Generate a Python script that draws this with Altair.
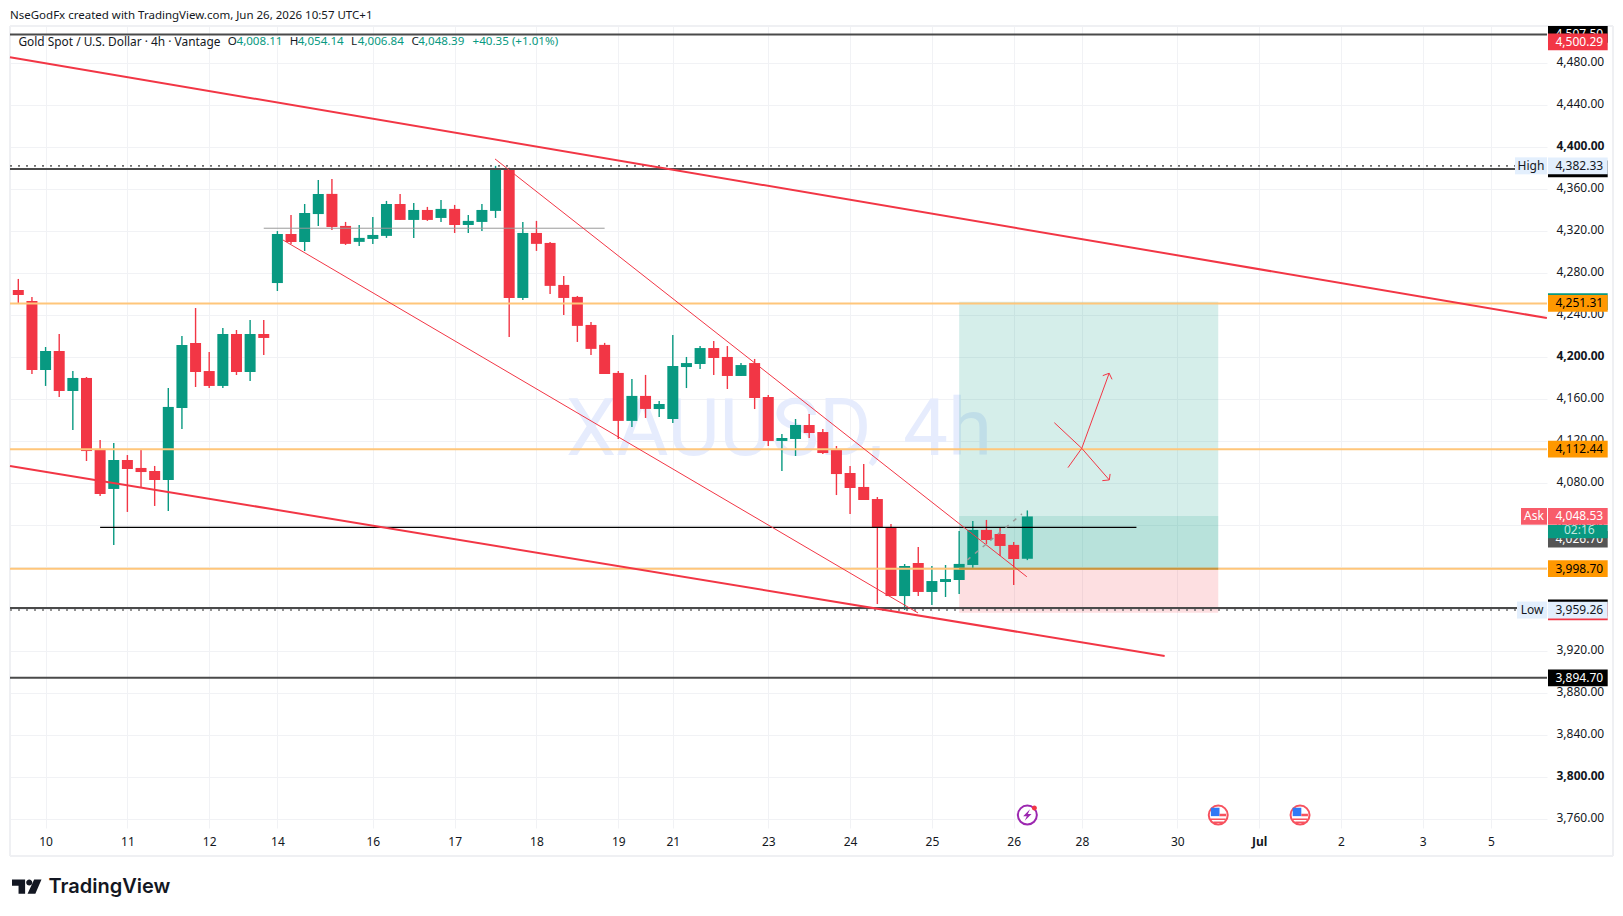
import altair as alt
import pandas as pd

# ---- candle values (4h bars) ----
opens = [4264.1,4253.6,4187.9,4206,4167.9,4180.3,4112.7,4074.6,4102.2,4094.6,4091.7,4083.1,4151.7,4213.6,4186.9,
         4172.7,4222.2,4186,4222.2,4270.7,4317.4,4309.8,4336.4,4355.6,4325.1,4309.9,4312.7,4315.6,4346,4330.8,
         4340.3,4332.7,4341.3,4326,4328.9,4339.4,4380.3,4256.5,4318.4,4308.9,4268.9,4257.5,4230.8,4211.8,4185.1,
         4139.4,4163.2,4150.7,4141.2,4190.7,4193.6,4208.8,4200.3,4182.2,4194.5,4162.2,4120.3,4122.2,4135.5,4128.8,
         4112.6,4089.8,4076.5,4065,4038.4,3972.6,4004.1,3976.5,3986,3987.9,4002.2,4035.6,4031.7,4021.3,4008.11]
closes = [4259.3,4187.9,4206,4167.9,4180.3,4110.7,4069.8,4102.2,4093.6,4090.7,4083.1,4152.7,4211.7,4186,4172.7,
          4222.2,4186,4222.2,4218.4,4317.4,4309.8,4337.4,4355.5,4324.1,4308,4313.7,4316.5,4346,4330.8,4340.3,
          4330.8,4341.3,4326,4329.9,4340.3,4380.3,4256.5,4318.4,4308,4268,4256.5,4229.9,4208,4184.1,4139.4,
          4163.2,4150.8,4155.5,4191.7,4194.5,4208.8,4199.3,4182.2,4192.6,4161.2,4120.3,4123.1,4135.5,4127.9,4108.8,
          4088.8,4075.5,4064.1,4037.4,3972.6,4001.2,3976.5,3986.9,3988.8,4003.2,4035.6,4026,4020.3,4007.9,4048.39]
highs = [4274.6,4257.4,4209.8,4222.2,4186.9,4181.2,4121.2,4118.4,4106.9,4112.7,4096.5,4170.7,4220.3,4246.9,4205,
         4227.9,4226,4235.5,4235.5,4320.2,4335.5,4346,4368.8,4369.9,4328.9,4326,4333.7,4348.9,4355.6,4347,
         4343.2,4349.9,4345.1,4335.6,4346,4382.3,4380.5,4328.9,4329.9,4309.9,4277.5,4258.4,4233.7,4213.7,4187,
         4179.4,4183.2,4158.4,4221.2,4200.3,4210.7,4215.5,4210.7,4194.5,4198.4,4164.1,4126.9,4141.2,4146,4131.7,
         4115.5,4096.5,4098.4,4066.9,4041.2,4003.1,4019.3,4001.2,4002.2,4034.6,4044.1,4045.1,4037.5,4024.1,4054.14]
lows = [4250.7,4184.1,4172.7,4162.2,4130.7,4101.2,4067.9,4021.2,4052.7,4076.5,4058.4,4053.6,4131.7,4171.7,4170.7,
        4170.7,4183.1,4177.4,4202.2,4263.1,4307.9,4301.2,4325,4321.3,4307,4306,4308,4313.7,4330.8,4313.7,
        4329.9,4328.9,4318.4,4318.4,4320.3,4332.7,4219.4,4254.6,4301.3,4260.3,4240.3,4214.6,4202.2,4184.1,4122.2,
        4133.7,4142.2,4143.1,4137.4,4170.7,4188.8,4183.1,4169.8,4182.2,4150.7,4115.5,4091.7,4106,4123.1,4107.9,
        4068.8,4050.7,4064.1,3965,3972.6,3959.3,3972.6,3964.1,3971.7,3974.6,3999.4,4022.2,4010.8,3983.2,4006.84]

# ---- axes ----
price_ticks = [3760,3800,3840,3880,3920,3960,4000,4040,4080,4120,4160,4200,4240,4280,4320,4360,4400,4440,4480]
date_ticks = [2,8,14,19,26,32,38,44,48,55,61,67,73,78,85,91,97,103,108]
date_labels = ["10","11","12","14","16","17","18","19","21","23","24","25","26","28","30","Jul","2","3","5"]

# ---- horizontal levels ----
level_orange = [4251.31,4112.44,3998.70]
level_dark = [4507.50,4379.4,3961.3,3894.70]
level_dotted = [4382.33,3959.26]

TEAL, RED = "#089981", "#f23645"
INK = "#131722"
FONT = "Noto Sans"

xs = alt.Scale(domain=[-0.609, 112.11], nice=False, zero=False, padding=0)
ys = alt.Scale(domain=[3751.7, 4515.5], nice=False, zero=False, padding=0)
GRID = "#f1f2f5"
label_expr = "{" + ",".join(f"'{v}':'{t}'" for v, t in zip(date_ticks, date_labels)) + "}[datum.value]"
x_axis = alt.Axis(values=date_ticks, labelExpr=label_expr, grid=True, gridColor=GRID, domain=False, ticks=False,
                  tickSize=0, labelPadding=13, labelFont=FONT, labelFontSize=12, labelColor=INK, title=None,
                  labelOverlap=False, labelAngle=0, labelBaseline="middle",
                  labelFontWeight={"condition": {"test": "datum.value == 91", "value": "bold"}, "value": "normal"})
y_axis = alt.Axis(values=price_ticks, format=",.2f", orient="right", grid=True, gridColor=GRID, domain=False,
                  ticks=False, tickSize=0, labelPadding=9, labelOffset=-2, labelFont=FONT, labelFontSize=12,
                  labelColor=INK, title=None, labelOverlap=False,
                  labelFontWeight={"condition": {"test": "datum.value == 4400 || datum.value == 4200 || datum.value == 3800",
                                                 "value": "bold"}, "value": "normal"})
X = alt.X("x:Q", scale=xs, axis=x_axis)
Y = alt.Y("y:Q", scale=ys, axis=y_axis)

PX0, PY0 = 10, 26


def line(xv, yv, color, width=1.0, dash=None, opacity=1.0):
    kw = {"strokeDash": dash} if dash else {}
    return alt.Chart(pd.DataFrame({"x": xv, "y": yv, "o": list(range(len(xv)))})).mark_line(
        color=color, strokeWidth=width, opacity=opacity, **kw).encode(x=X, y=Y, order="o:Q")


def hline(p, color, width, dash=None, x0=-0.609, x1=112.11):
    return line([x0, x1], [p, p], color, width, dash)


def label(t, x, y, color=INK, size=12, align="left", weight="normal", font=FONT):
    return alt.Chart(pd.DataFrame({"t": [t]})).mark_text(align=align, baseline="middle", color=color, fontSize=size,
                                                         fontWeight=weight, font=font).encode(
        x=alt.value(x - PX0), y=alt.value(y - PY0), text="t:N")


def rect_path(half_h):
    return f"M-1,-{half_h}H1V{half_h}H-1Z"


def tag(p, fill, text=None, tcolor="#ffffff", xc=1577.85, w=59.7, h=16.7, dy=0):
    df = pd.DataFrame({"y": [p], "t": [text or ""]})
    out = alt.Chart(df).mark_point(shape=rect_path(round(h / w, 3)), size=w * w, filled=True, opacity=1, color=fill,
                                   strokeWidth=0).encode(x=alt.value(xc - PX0), y=Y)
    if text:
        tx = 1579.3 if xc > 1548 else xc
        out = out + alt.Chart(df).mark_text(align="center", baseline="middle", color=tcolor, fontSize=12, font=FONT,
                                            dy=dy).encode(x=alt.value(tx - PX0), y=Y, text="t:N")
    return out


def icon(xv, p, shape, size, fill=None, stroke=None, sw=0):
    kw = dict(shape=shape, size=size, opacity=1, filled=True, fill=fill, stroke=stroke or fill, strokeWidth=sw)
    return alt.Chart(pd.DataFrame({"x": [xv], "y": [p]})).mark_point(**kw).encode(x=X, y=Y)


def box(x0, x1, p0, p1, color, opacity):
    return alt.Chart(pd.DataFrame({"x": [x0], "x2": [x1], "y": [p0], "y2": [p1]})).mark_rect(
        color=color, opacity=opacity).encode(x=X, x2="x2:Q", y=Y, y2="y2:Q")


def frame(x0, x1, y0, y1):
    return alt.Chart(pd.DataFrame({"a": [0]})).mark_rule(color="#eff0f3", strokeWidth=2).encode(
        x=alt.value(x0 - PX0), x2=alt.value(x1 - PX0), y=alt.value(y0 - PY0), y2=alt.value(y1 - PY0))


candles = pd.DataFrame({"x": list(range(len(opens))), "o": opens, "c": closes, "h": highs, "l": lows})
cond = alt.condition("datum.c >= datum.o", alt.value(TEAL), alt.value(RED))

layers = []
# axes + grid
layers.append(alt.Chart(pd.DataFrame({"x": [0], "y": [4000]})).mark_point(opacity=0).encode(x=X, y=Y))
# frame
layers += [frame(10, 10, 26, 856), frame(10, 1613, 26, 26), frame(1613, 1613, 26, 856), frame(10, 1613, 856, 856)]
# watermark
layers.append(label("XAUUSD, 4h", 779, 431, color="#e6ecfd", size=80, align="center", font="Roboto"))
# position tool
layers += [box(69, 88, 3998.7, 4252.9, TEAL, 0.17),
           box(69, 88, 3998.7, 4048.9, TEAL, 0.14),
           box(69, 88, 3956.8, 3998.7, RED, 0.16)]
# candles
layers.append(alt.Chart(candles).mark_rule(strokeWidth=1.4).encode(
    x=X, y=alt.Y("l:Q", scale=ys, axis=y_axis), y2="h:Q", color=cond))
layers.append(alt.Chart(candles).mark_bar(size=11, orient="vertical").encode(
    x=X, y=alt.Y("o:Q", scale=ys, axis=y_axis), y2="c:Q", color=cond))
# horizontal levels
for p in level_orange:
    layers.append(hline(p, "#ffc67a", 2))
layers.append(hline(3998.7, "#c9953f", 2, x0=69, x1=88))
for p in level_dark:
    layers.append(hline(p, "#4a4a4a", 2))
for p in level_dotted:
    layers.append(hline(p, "#6f6f6f", 1.6, dash=[2, 6]))
layers.append(hline(4038, "#000000", 1.1, x0=6, x1=82))
layers.append(hline(4322.9, "#9a9a9a", 1, x0=18, x1=43))
# trend lines
layers.append(line([-0.61, 112.1], [4485.8, 4237.4], RED, 2))
layers.append(line([-0.61, 84.07], [4096.5, 3915.5], RED, 2))
layers.append(line([34.96, 73.96], [4388.9, 3991], RED, 1))
layers.append(line([19.41, 65.98], [4311.7, 3956.5], RED, 1))
layers.append(line([69.6, 73.6], [4007, 4050.8], "#9a9a9a", 1.5, dash=[4, 6]))
# arrows
layers.append(line([75.98, 77.99, 80.01], [4137.7, 4113.3, 4083.2], RED, 1))
layers.append(line([79.5, 80.01, 80.07], [4082.5, 4083.2, 4088.9], RED, 1))
layers.append(line([76.98, 77.99, 80.0], [4094.9, 4113.3, 4184.8], RED, 1))
layers.append(line([79.53, 80.0, 80.21], [4182.5, 4184.8, 4179], RED, 1))
# event icons
layers.append(icon(74, 3764, "circle", 361, fill="#ffffff", stroke="#9c27b0", sw=2))
layers.append(icon(74, 3764, "M0.25,-0.55L-0.4,0.1L-0.05,0.1L-0.25,0.55L0.4,-0.1L0.05,-0.1Z", 441, fill="#9c27b0"))
layers.append(icon(74, 3764, "M0.43,-0.67a0.24,0.24 0 1,0 0.48,0a0.24,0.24 0 1,0 -0.48,0Z", 441, fill="#f23645"))
for fx in (88, 94):
    layers.append(icon(fx, 3764, "circle", 361, fill="#ffffff", stroke="#f7525f", sw=2))
    layers.append(icon(fx, 3764, "M-0.7,-0.7H0.12V0.1H-0.7Z", 441, fill="#3179f5"))
    layers.append(icon(fx, 3764, "M0.12,-0.12H0.75V0.12H0.12ZM-0.7,0.32H0.7V0.48H-0.7ZM-0.45,0.62H0.45V0.76H-0.45Z",
                       441, fill="#f7525f"))
# under tags (partly hidden)
layers += [tag(4507.5, "#000000", "4,507.50"), tag(4253, TEAL), tag(4379.4, "#000000"), tag(3961.3, "#000000"),
           tag(3957.6, RED), tag(4026.7, "#555555", "4,026.70")]
# over tags
layers += [tag(4500.29, RED, "4,500.29"), tag(4382.33, "#e3effd", "4,382.33", INK),
           tag(4251.31, "#ff9800", "4,251.31", "#000000"), tag(4112.44, "#ff9800", "4,112.44", "#000000"),
           tag(4048.53, "#f85c6a", "4,048.53"), tag(4033.9, TEAL, "02:16", "#bfe7df", h=13.4, dy=-2),
           tag(3998.7, "#ff9800", "3,998.70", "#000000"), tag(3959.26, "#e3effd", "3,959.26", INK),
           tag(3894.7, "#000000", "3,894.70"),
           tag(4382.33, "#e3effd", "High", INK, xc=1531, w=32, h=17),
           tag(3959.26, "#e3effd", "Low", INK, xc=1532, w=30, h=17),
           tag(4048.53, "#f85c6a", "Ask", "#ffffff", xc=1534, w=26, h=16.7)]
# header texts
layers.append(label("NseGodFx created with TradingView.com, Jun 26, 2026 10:57 UTC+1", 10, 16, size=11.5))
layers.append(label("Gold Spot / U.S. Dollar · 4h · Vantage", 18.4, 42, size=11.9))
legend_parts = [("O", 227.7, INK), ("4,008.11", 236.5, TEAL), ("H", 289.7, INK), ("4,054.14", 297.7, TEAL),
                ("L", 351, INK), ("4,006.84", 357.8, TEAL), ("C", 411.4, INK), ("4,048.39", 418.3, TEAL),
                ("+40.35 (+1.01%)", 472.6, TEAL)]
for t, x, c in legend_parts:
    layers.append(label(t, x, 42, color=c, size=11.6))
# logo
logo = ("M-1,-0.486H-0.111V0.486H-0.556V-0.069H-1Z"
        "M-0.038,-0.28a0.205,0.205 0 1,0 0.41,0a0.205,0.205 0 1,0 -0.41,0Z"
        "M0.5,-0.486H1L0.583,0.486H0.056Z")
layers.append(alt.Chart(pd.DataFrame({"a": [0]})).mark_point(shape=logo, size=870, filled=True, opacity=1,
                                                             color="#131722", strokeWidth=0).encode(
    x=alt.value(26.75 - PX0), y=alt.value(886.7 - PY0)))
layers.append(label("TradingView", 48.5, 887, color="#131722", size=20, weight=600, font="Inter"))

chart = alt.layer(*layers).properties(
    width=1537, height=802, autosize="none",
    padding={"left": 2, "top": 18, "right": 68, "bottom": 75},
    background="#ffffff",
).configure_view(stroke=None)

chart.save("out.html", embed_options={"renderer": "svg", "actions": False})
